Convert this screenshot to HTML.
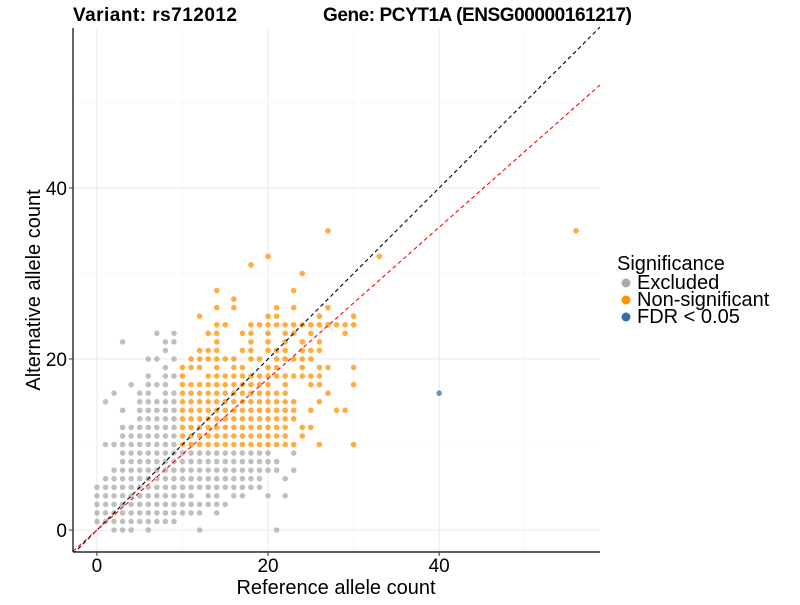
<!DOCTYPE html>
<html><head><meta charset="utf-8"><style>
body{margin:0;background:#fff;}
svg text{font-family:"Liberation Sans",Arial,sans-serif;}
</style></head><body>
<svg id="chart" width="800" height="600" xmlns="http://www.w3.org/2000/svg">
<rect width="800" height="600" fill="#fff"/>
<g id="grid"></g>
<g id="lines"></g>
<g id="points"></g>
<g id="axes"></g>
<text x="73" y="21" font-size="19" font-weight="bold" textLength="164">Variant: rs712012</text>
<text x="323" y="21" font-size="19" font-weight="bold" textLength="309">Gene: PCYT1A (ENSG00000161217)</text>
<text x="336" y="594" font-size="20" text-anchor="middle">Reference allele count</text>
<text transform="translate(40,290) rotate(-90)" font-size="20" text-anchor="middle">Alternative allele count</text>
<g>
<text x="617" y="270" font-size="20">Significance</text>
<circle cx="626" cy="283" r="4.5" fill="#aaaaaa"/>
<text x="637" y="289" font-size="20">Excluded</text>
<circle cx="626" cy="300" r="4.5" fill="#ff9100"/>
<text x="637" y="306" font-size="20">Non-significant</text>
<circle cx="626" cy="317" r="4.5" fill="#3a6ea5"/>
<text x="637" y="323" font-size="20">FDR &lt; 0.05</text>
</g>
</svg>
<script>
// rows: alternative count -> list of reference counts
const altValues = [0,1,2,3,4,5,6,7,8,9,10,11,12,13,14,15,16,17,18,19,20,21,22,23,24,25,26,27,28,30,31,32,35];
const refLists = [
 [2,3,4,6,12,21],
 [0,1,2,3,4,5,6,7,8,9],
 [0,1,2,3,4,5,6,7,8,9,10,11,12,14],
 [0,1,2,3,4,5,6,7,8,9,10,11,12,13,14,15],
 [0,1,2,3,4,5,6,7,8,9,10,11,13,14,16,17,20,22],
 [0,1,2,3,4,5,6,7,8,9,10,11,12,13,14,15,16,17,18,19],
 [1,2,3,4,5,6,7,8,9,10,11,12,13,14,15,16,17,18,19,22],
 [2,3,4,5,6,7,8,9,10,11,12,13,14,15,16,17,18,19,20,21,23],
 [3,4,5,6,7,8,9,10,11,12,13,14,15,16,17,18,19,20,21],
 [3,4,5,6,7,8,9,10,11,12,13,14,15,16,17,18,19,20,23],
 [1,2,3,4,5,6,7,8,9,10,11,12,13,14,15,16,17,18,19,20,21,22,23,26,30],
 [3,4,5,6,7,8,9,10,11,12,13,14,15,16,17,18,19,20,21,22,24],
 [3,4,5,6,7,8,9,10,11,12,13,14,15,16,17,18,19,20,21,22,24,25],
 [5,6,7,8,9,10,11,12,13,14,15,16,17,18,19,20,21,22,23],
 [3,5,6,7,8,9,10,11,12,13,14,15,16,17,18,19,20,21,22,23,25,28,29],
 [1,5,6,7,8,9,10,11,12,13,14,15,16,17,18,19,20,21,22,23,26],
 [2,5,6,8,9,10,11,12,13,14,15,16,17,18,19,20,21,22,27],
 [4,6,7,8,10,11,12,13,14,15,16,17,18,19,20,22,25,26,30],
 [6,8,9,10,13,14,15,16,17,18,19,20,21,22,23,24,25,26],
 [8,10,11,12,14,16,17,20,21,24,26,27,30],
 [6,7,9,11,12,13,14,15,16,18,19,21,22,23,24,25],
 [8,12,13,14,17,18,20,21,22,24,25,26],
 [3,8,9,14,18,20,22,24,26],
 [7,9,13,14,17,18,20,22,23,25,29],
 [14,15,18,19,20,21,22,23,24,25,26,27,28,29,30],
 [12,20,21,26,30],
 [14,16,21,23,27],
 [16],
 [14,23],
 [24],
 [18],
 [20],
 [27]
];
const extraRef = [33,56];
const extraAlt = [32,35];
const sigRef = [40];
const sigAlt = [16];
const xTicks = [0,20,40];
const yTicks = [0,20,40];
const minorTicks = [10,30,50];

const NS='http://www.w3.org/2000/svg';
const L=73,R=600,T=28,B=552;
const xMin=-2.8,xMax=58.8,yMin=-2.57,yMax=58.7;
const sx=v=>L+(v-xMin)/(xMax-xMin)*(R-L);
const sy=v=>B-(v-yMin)/(yMax-yMin)*(B-T);
function mk(tag,attrs,parent){const e=document.createElementNS(NS,tag);for(const k in attrs)e.setAttribute(k,attrs[k]);parent.appendChild(e);return e;}
const grid=document.getElementById('grid');
minorTicks.concat(xTicks).forEach(v=>{
 const major=xTicks.includes(v);
 const gl=mk('line',{x1:sx(v),x2:sx(v),y1:T,y2:B,stroke:major?'#ebebeb':'#f3f3f3','stroke-width':major?1.1:0.6},grid);
 
 
});
minorTicks.concat(yTicks).forEach(v=>{
 const major=yTicks.includes(v);
 const gl=mk('line',{x1:L,x2:R,y1:sy(v),y2:sy(v),stroke:major?'#ebebeb':'#f3f3f3','stroke-width':major?1.1:0.6},grid);
 
 
});
const pts=document.getElementById('points');
function dot(r,a,col,name){
 const c=mk('circle',{cx:sx(r),cy:sy(a),r:2.8,fill:col,'fill-opacity':0.75},pts);
 
 
}
altValues.forEach((a,i)=>{refLists[i].forEach(r=>{
 const ex=!(r>=10&&a>=10);
 dot(r,a,ex?'#aaaaaa':'#ff9100',ex?'point-excluded':'point-nonsignificant');
});});
extraRef.forEach((r,i)=>dot(r,extraAlt[i],'#ff9100','point-nonsignificant'));
sigRef.forEach((r,i)=>dot(r,sigAlt[i],'#3a6ea5','point-fdr'));
const lines=document.getElementById('lines');
const clip=mk('clipPath',{id:'pc'},lines);mk('rect',{x:L,y:T-10,width:R-L,height:B-T+10},clip);
const l1=mk('line',{x1:sx(xMin),y1:sy(xMin),x2:sx(xMax),y2:sy(xMax),stroke:'#000','stroke-dasharray':'4,3','stroke-width':1.1,'clip-path':'url(#pc)'},lines);


const slope=0.885;
const l2=mk('line',{x1:sx(xMin),y1:sy(xMin*slope),x2:sx(xMax),y2:sy(xMax*slope),stroke:'#ff0000','stroke-dasharray':'4,3','stroke-width':1.1,'clip-path':'url(#pc)'},lines);


document.getElementById('chart').appendChild(lines);
const axes=document.getElementById('axes');
document.getElementById('chart').appendChild(axes);
const ya=mk('line',{x1:L,x2:L,y1:T,y2:B,stroke:'#000','stroke-width':1.2},axes);


const xa=mk('line',{x1:L,x2:R,y1:B,y2:B,stroke:'#000','stroke-width':1.2},axes);


xTicks.forEach(v=>{
 const tk=mk('line',{x1:sx(v),x2:sx(v),y1:B,y2:B+4,stroke:'#333'},axes);
 
 
 const t=mk('text',{x:sx(v),y:B+20,'font-size':19,'text-anchor':'middle'},axes);t.textContent=v;
 
 
});
yTicks.forEach(v=>{
 const tk=mk('line',{x1:L-4,x2:L,y1:sy(v),y2:sy(v),stroke:'#333'},axes);
 
 
 const t=mk('text',{x:L-6,y:sy(v)+7,'font-size':19,'text-anchor':'end'},axes);t.textContent=v;
 
 
});
</script>
</body></html>
